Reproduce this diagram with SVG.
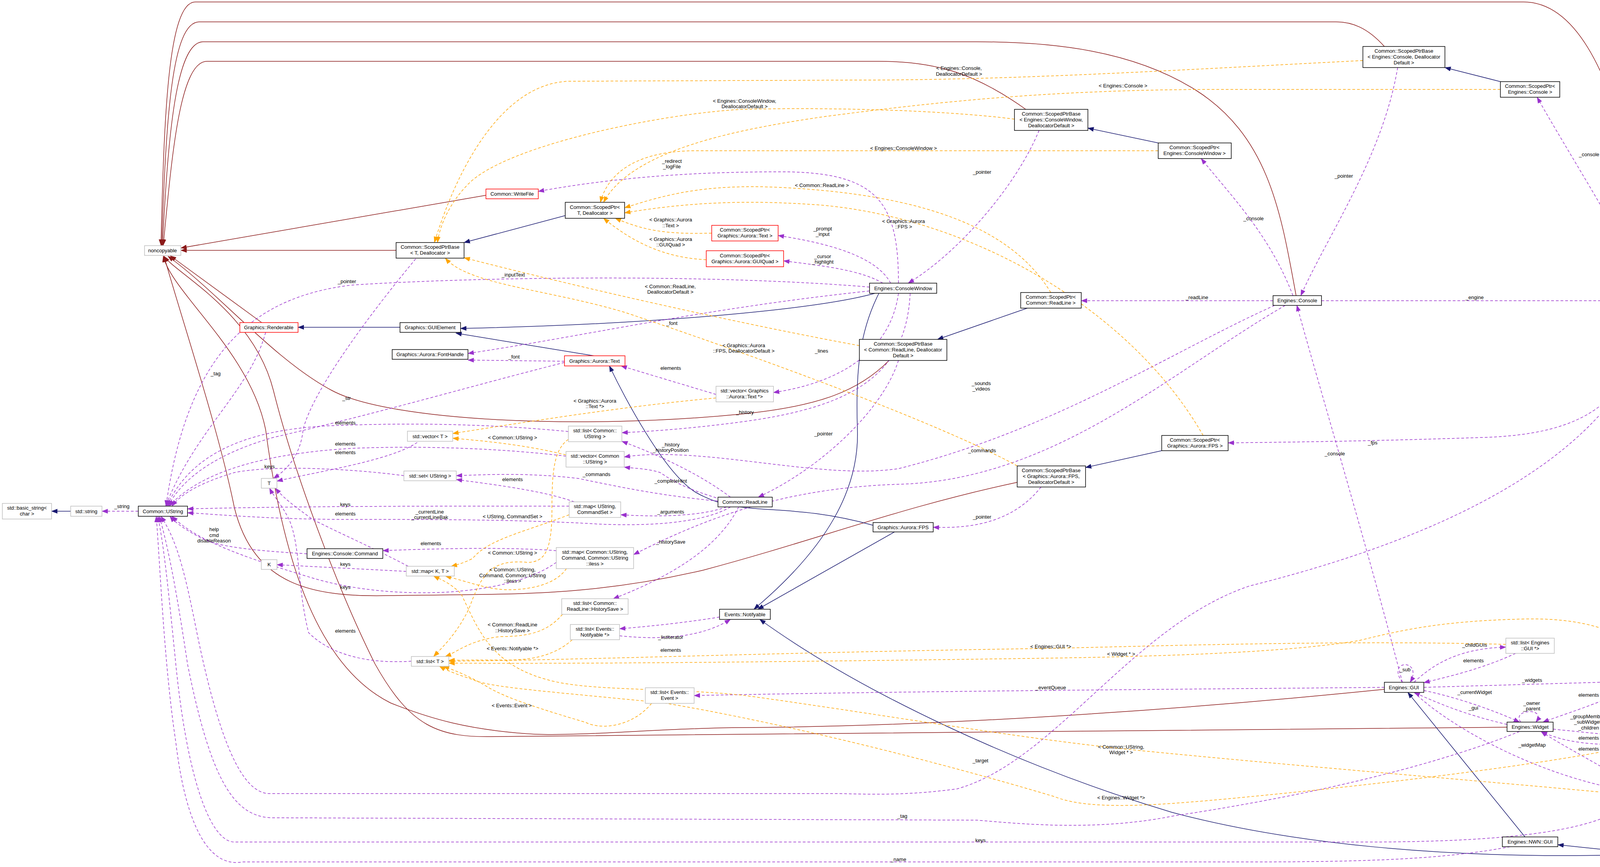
<svg xmlns="http://www.w3.org/2000/svg" width="4339" height="2220" viewBox="0 0 4339 2220">
<style>
text{font-family:"Liberation Sans",Arial,sans-serif;font-size:13px;fill:#000;text-anchor:middle}
.nb rect{fill:#fff;stroke:#000;stroke-width:1.5}
.ng rect{fill:#fff;stroke:#bfbfbf;stroke-width:1.5}
.nr rect{fill:#fff;stroke:#f00;stroke-width:1.5}
.nq rect{fill:#bfbfbf;stroke:#000;stroke-width:1.5}
#edges path{fill:none;stroke-width:1.5}
.inh{stroke:#191970;marker-end:url(#mb)}
.prv{stroke:#8b1a1a;marker-end:url(#mr)}
.use{stroke:#9a32cd;stroke-dasharray:7,5;marker-end:url(#mp)}
.tpl{stroke:#ffa500;stroke-dasharray:7,5;marker-end:url(#mo)}
</style>
<defs>
<marker id="mb" markerUnits="userSpaceOnUse" markerWidth="16" markerHeight="12" refX="15" refY="6" orient="auto"><path d="M0,0L16,6L0,12z" fill="#191970"/></marker>
<marker id="mr" markerUnits="userSpaceOnUse" markerWidth="16" markerHeight="12" refX="15" refY="6" orient="auto"><path d="M0,0L16,6L0,12z" fill="#8b1a1a"/></marker>
<marker id="mp" markerUnits="userSpaceOnUse" markerWidth="16" markerHeight="12" refX="15" refY="6" orient="auto"><path d="M0,0L16,6L0,12z" fill="#9a32cd"/></marker>
<marker id="mo" markerUnits="userSpaceOnUse" markerWidth="16" markerHeight="12" refX="15" refY="6" orient="auto"><path d="M0,0L16,6L0,12z" fill="#ffa500"/></marker>
</defs>
<rect width="4339" height="2220" fill="#fff"/>
<g id="edges">
<!-- private inheritance to noncopyable -->
<path class="prv" d="M1014,641L463,641"/>
<path class="prv" d="M1244,500L463,635"/>
<path class="prv" d="M670,826L436,655"/>
<path class="prv" d="M4235,757C4200,500 4120,5 3900,5L500,5C430,5 420,300 412,628"/>
<path class="prv" d="M3544,119C3500,70 3460,56 3420,56L510,56C440,56 425,300 414,628"/>
<path class="prv" d="M3318,757C3280,550 3250,350 3060,230C2900,130 2700,107 2500,107L520,107C450,107 430,350 416,628"/>
<path class="prv" d="M2626,280C2500,190 2400,157 2250,157L530,157C460,157 440,400 418,628"/>
<path class="prv" d="M2276,923C2200,1000 2100,1040 1900,1060C1500,1100 1000,1080 850,1000C700,920 560,750 430,656"/>
<path class="prv" d="M2604,1235C2300,1300 2100,1380 1800,1460C1500,1530 1300,1520 1000,1525C800,1530 650,1500 600,1300C560,1100 460,800 420,656"/>
<path class="prv" d="M3544,1765C3000,1820 2400,1860 1900,1863C1700,1864 1500,1885 1370,1880C1200,1870 1100,1840 1000,1800C800,1700 720,1400 680,1100C640,900 440,750 418,656"/>
<path class="prv" d="M3858,1862C3000,1870 2000,1880 1270,1886C1120,1890 1050,1860 960,1700C860,1500 750,1200 700,1000C650,800 450,700 420,656"/>
<!-- public inheritance -->
<path class="inh" d="M1447,552L1188,621"/>
<path class="inh" d="M1024,838L763,838"/>
<path class="inh" d="M2240,751C2100,790 1700,830 1179,841"/>
<path class="inh" d="M1520,911L1167,853"/>
<path class="inh" d="M2235,1345C2000,1280 1900,1330 1780,1260C1700,1210 1600,1020 1560,937"/>
<path class="inh" d="M2965,366L2785,328"/>
<path class="inh" d="M3841,209L3699,173"/>
<path class="inh" d="M2630,789L2400,869"/>
<path class="inh" d="M2974,1154L2779,1197"/>
<path class="inh" d="M2250,751C2200,850 2190,950 2195,1100C2200,1250 2120,1400 1930,1560"/>
<path class="inh" d="M2290,1362L1940,1560"/>
<path class="inh" d="M4151,2189C3700,2200 3300,2160 3000,2080C2600,1960 2200,1770 1945,1586"/>
<path class="inh" d="M3904,2143L3604,1773"/>
<path class="inh" d="M4151,2180L3988,2163"/>
<path class="inh" d="M181,1309L132,1309"/>
<!-- usage -->
<path class="use" d="M354,1309L261,1309"/>
<path class="use" d="M2300,725C2300,520 2250,440 2000,440C1800,440 1600,450 1378,490"/>
<path class="use" d="M2280,725C2240,650 2100,620 1992,603"/>
<path class="use" d="M2260,725C2200,690 2100,680 2006,668"/>
<path class="use" d="M2226,735C1800,700 1200,710 900,730C650,760 480,900 425,1296"/>
<path class="use" d="M2226,745C1800,790 1500,860 1198,905"/>
<path class="use" d="M1445,925L1198,922"/>
<path class="use" d="M2300,751C2280,900 2150,980 1980,1005"/>
<path class="use" d="M1833,1010L1590,937"/>
<path class="use" d="M2330,751C2320,950 2200,1040 1900,1080C1750,1100 1650,1105 1592,1108"/>
<path class="use" d="M1870,1273C1800,1220 1700,1170 1592,1130"/>
<path class="use" d="M1845,1278C1750,1250 1720,1230 1690,1210C1660,1200 1630,1200 1598,1196"/>
<path class="use" d="M1838,1283C1700,1270 1600,1250 1480,1225C1350,1210 1250,1215 1168,1218"/>
<path class="use" d="M1470,1285C1400,1260 1300,1245 1168,1228"/>
<path class="use" d="M1860,1298C1800,1320 1700,1325 1589,1318"/>
<path class="use" d="M1870,1298C1800,1340 1650,1350 1500,1340C1300,1330 1100,1330 900,1330C700,1330 600,1320 480,1313"/>
<path class="use" d="M1891,1298C1850,1380 1760,1460 1570,1533"/>
<path class="use" d="M2300,923C2260,1050 2100,1200 1941,1273"/>
<path class="use" d="M2660,334C2600,480 2450,650 2325,725"/>
<path class="use" d="M3578,173C3540,400 3400,600 3330,757"/>
<path class="use" d="M3310,757C3250,600 3150,500 3075,406"/>
<path class="use" d="M4220,757C4150,600 4020,400 3935,249"/>
<path class="use" d="M3259,770L2768,770"/>
<path class="use" d="M3383,770L4177,770"/>
<path class="use" d="M3263,782C3000,900 2700,1100 2300,1200C2100,1230 1800,1140 1598,1170"/>
<path class="use" d="M3290,782C3000,950 2700,1230 2300,1240C2000,1250 1800,1330 1622,1420"/>
<path class="use" d="M2665,1247C2600,1330 2500,1355 2389,1350"/>
<path class="use" d="M4230,782C4180,1000 4100,1110 3800,1120C3500,1130 3300,1132 3144,1134"/>
<path class="use" d="M3590,1747C3500,1400 3380,1000 3320,782"/>
<path class="use" d="M3590,1747C3570,1720 3580,1702 3597,1702C3614,1702 3626,1720 3610,1747"/>
<path class="use" d="M3620,1747C3680,1690 3750,1660 3855,1657"/>
<path class="use" d="M3880,1673C3800,1710 3720,1730 3645,1748"/>
<path class="use" d="M3645,1760L4167,1745"/>
<path class="use" d="M4190,1755C4100,1800 4000,1830 3950,1849"/>
<path class="use" d="M3645,1768C3750,1790 3850,1830 3890,1849"/>
<path class="use" d="M3858,1855C3750,1830 3680,1800 3620,1773"/>
<path class="use" d="M3893,1849C3880,1830 3900,1822 3917,1822C3934,1822 3945,1832 3932,1849"/>
<path class="use" d="M3976,1867L4174,1887"/>
<path class="use" d="M4174,1905C4080,1910 4000,1900 3946,1873"/>
<path class="use" d="M4190,2018C4100,1960 4000,1910 3945,1873"/>
<path class="use" d="M3620,1773C3700,1850 3900,1970 4130,2018"/>
<path class="use" d="M3544,1760C3000,1765 2300,1770 1777,1781"/>
<path class="use" d="M1842,1580C1750,1595 1650,1605 1586,1610"/>
<path class="use" d="M1586,1628C1700,1640 1800,1630 1870,1586"/>
<!-- to UString / T / K -->
<path class="use" d="M680,851C640,1000 500,1100 424,1296"/>
<path class="use" d="M1445,928C1200,990 1000,1050 700,1120C560,1160 470,1220 430,1296"/>
<path class="use" d="M1455,1105C1300,1090 1100,1080 850,1090C600,1100 480,1180 427,1296"/>
<path class="use" d="M1449,1168C1300,1150 1100,1140 900,1148C700,1160 520,1200 433,1296"/>
<path class="use" d="M1034,1218C900,1200 700,1190 600,1210C500,1240 460,1270 440,1296"/>
<path class="use" d="M1457,1296C1200,1296 800,1295 480,1303"/>
<path class="use" d="M786,1418C650,1410 560,1400 520,1380C480,1360 450,1340 435,1322"/>
<path class="use" d="M1424,1440C1300,1530 1000,1540 800,1480C600,1420 500,1380 440,1322"/>
<path class="use" d="M1424,1410C1300,1400 1100,1405 980,1410"/>
<path class="use" d="M1068,1133C1000,1180 800,1210 709,1232"/>
<path class="use" d="M1064,663C950,800 800,1000 776,1100C770,1160 740,1200 700,1225"/>
<path class="use" d="M1045,1450C950,1400 900,1380 800,1330C760,1300 730,1280 705,1250"/>
<path class="use" d="M1040,1463L709,1446"/>
<path class="use" d="M1053,1693C950,1700 850,1680 790,1620C760,1500 770,1400 740,1330C720,1290 700,1270 690,1250"/>
<path class="use" d="M4240,782C4200,1000 4000,1300 3200,1500C2900,1600 2700,1950 2450,2020C2300,2040 2200,2032 2134,2032L690,2032C620,2032 560,1900 500,1600C470,1450 450,1380 412,1322"/>
<path class="use" d="M3890,1873C3700,1950 3400,2030 3000,2090C2800,2130 2600,2108 2500,2100L700,2094C600,2094 540,2000 480,1700C450,1500 430,1400 408,1322"/>
<path class="use" d="M4170,2057C4100,2120 3900,2156 3500,2156L600,2156C540,2156 480,2000 450,1700C430,1500 420,1400 404,1322"/>
<path class="use" d="M3866,2168C3700,2200 3500,2207 3200,2207L620,2207C550,2220 480,2150 450,1900C420,1700 410,1450 400,1322"/>
<!-- template instances -->
<path class="tpl" d="M1822,597C1700,600 1650,590 1575,559"/>
<path class="tpl" d="M1808,665C1700,660 1620,620 1545,559"/>
<path class="tpl" d="M2690,749C2600,600 2400,500 2000,480C1800,470 1700,500 1599,532"/>
<path class="tpl" d="M3080,1115C2900,800 2500,560 2100,525C1900,510 1750,520 1599,545"/>
<path class="tpl" d="M2965,386L1780,386C1650,386 1560,430 1537,518"/>
<path class="tpl" d="M3841,229L3120,229C2700,229 2400,260 2100,300C1900,330 1620,380 1545,518"/>
<path class="tpl" d="M3489,155C3000,180 2600,205 2200,205L1460,208C1300,210 1180,400 1112,621"/>
<path class="tpl" d="M2597,305C2400,280 2100,275 1900,280C1700,290 1300,370 1200,470C1150,520 1125,580 1120,621"/>
<path class="tpl" d="M2200,885C1900,830 1500,740 1188,660"/>
<path class="tpl" d="M2604,1193C2400,1080 1900,900 1600,800C1400,740 1200,730 1140,661"/>
<path class="tpl" d="M1833,1019C1600,1040 1350,1080 1159,1110"/>
<path class="tpl" d="M1449,1165C1350,1140 1250,1130 1159,1122"/>
<path class="tpl" d="M1455,1125C1420,1150 1413,1200 1413,1300C1413,1400 1400,1440 1350,1440C1250,1430 1230,1480 1200,1560C1170,1620 1140,1650 1110,1681"/>
<path class="tpl" d="M1457,1318C1350,1360 1250,1380 1210,1430C1190,1440 1175,1445 1155,1450"/>
<path class="tpl" d="M1450,1456C1420,1500 1350,1510 1300,1510C1250,1510 1200,1490 1140,1475"/>
<path class="tpl" d="M1440,1573C1400,1620 1350,1630 1280,1630C1200,1640 1170,1670 1140,1681"/>
<path class="tpl" d="M1465,1638C1430,1670 1380,1690 1300,1690C1220,1690 1180,1690 1149,1691"/>
<path class="tpl" d="M1668,1801C1620,1860 1540,1870 1500,1850C1400,1820 1300,1790 1250,1760C1200,1730 1160,1715 1135,1706"/>
<path class="tpl" d="M3855,1650C3500,1640 3100,1650 2700,1660C2000,1670 1500,1690 1149,1693"/>
<path class="tpl" d="M4280,1730C4200,1640 4100,1580 3900,1585C3700,1590 3600,1610 3480,1640C3300,1670 3000,1680 2700,1685C2000,1695 1500,1700 1149,1698"/>
<path class="tpl" d="M4174,1910C4000,1950 3600,2000 3300,2030C3000,2060 2800,2080 2700,2040C2400,1950 2000,1850 1700,1800C1400,1770 1250,1760 1210,1740C1180,1730 1150,1720 1125,1706"/>
<path class="tpl" d="M4139,2032C3800,2000 3300,1960 2900,1920C2600,1890 2200,1820 1900,1780C1700,1760 1500,1770 1400,1740C1250,1700 1220,1600 1180,1520C1150,1490 1120,1480 1110,1475"/>
</g>
<g id="labels">
<text x="312" y="1301">_string</text>
<text x="1720" y="417">_redirect</text><text x="1720" y="431">_logFile</text>
<text x="2106" y="590">_prompt</text><text x="2106" y="604">_input</text>
<text x="2106" y="661">_cursor</text><text x="2106" y="675">_highlight</text>
<text x="1314" y="708">_inputText</text>
<text x="1720" y="832">_font</text>
<text x="1316" y="918">_font</text>
<text x="2103" y="903">_lines</text>
<text x="1717" y="947">elements</text>
<text x="1907" y="1060">_history</text>
<text x="1717" y="1143">_history</text><text x="1717" y="1157">_historyPosition</text>
<text x="1527" y="1219">_commands</text>
<text x="1717" y="1236">_completeHint</text>
<text x="1312" y="1232">elements</text>
<text x="1717" y="1315">_arguments</text>
<text x="1100" y="1315">_currentLine</text><text x="1100" y="1329">_currentLineBak</text>
<text x="1717" y="1392">_historySave</text>
<text x="2108" y="1115">_pointer</text>
<text x="2514" y="445">_pointer</text>
<text x="3440" y="455">_pointer</text>
<text x="3209" y="564">_console</text>
<text x="4068" y="400">_console</text>
<text x="3064" y="766">_readLine</text>
<text x="3775" y="766">_engine</text>
<text x="2512" y="986">_sounds</text><text x="2512" y="1000">_videos</text>
<text x="2514" y="1158">_commands</text>
<text x="2514" y="1328">_pointer</text>
<text x="3514" y="1138">_fps</text>
<text x="3417" y="1166">_console</text>
<text x="3597" y="1719">_sub</text>
<text x="3775" y="1656">_childGUIs</text>
<text x="3772" y="1696">elements</text>
<text x="3922" y="1746">_widgets</text>
<text x="4067" y="1784">elements</text>
<text x="3775" y="1777">_currentWidget</text>
<text x="3772" y="1817">_gui</text>
<text x="3921" y="1805">_owner</text><text x="3921" y="1819">_parent</text>
<text x="4067" y="1839">_groupMembers</text><text x="4067" y="1853">_subWidgets</text><text x="4067" y="1868">_children</text>
<text x="4067" y="1894">elements</text>
<text x="4067" y="1922">elements</text>
<text x="3922" y="1912">_widgetMap</text>
<text x="2690" y="1765">_eventQueue</text>
<text x="1717" y="1636">_listIterator</text>
<text x="1717" y="1669">elements</text>
<text x="552" y="961">_tag</text>
<text x="888" y="725">_pointer</text>
<text x="887" y="1024">_str</text>
<text x="884" y="1087">elements</text>
<text x="884" y="1141">elements</text>
<text x="884" y="1163">elements</text>
<text x="690" y="1199">keys</text>
<text x="884" y="1296">keys</text>
<text x="884" y="1320">elements</text>
<text x="548" y="1360">help</text><text x="548" y="1375">cmd</text><text x="548" y="1389">disableReason</text>
<text x="1103" y="1396">elements</text>
<text x="884" y="1449">keys</text>
<text x="884" y="1508">keys</text>
<text x="884" y="1620">elements</text>
<text x="2510" y="1952">_target</text>
<text x="2310" y="2094">_tag</text>
<text x="2510" y="2156">keys</text>
<text x="2300" y="2205">_name</text>
<text x="1717" y="567">&lt; Graphics::Aurora</text><text x="1717" y="582">::Text &gt;</text>
<text x="1717" y="617">&lt; Graphics::Aurora</text><text x="1717" y="631">::GUIQuad &gt;</text>
<text x="2104" y="479">&lt; Common::ReadLine &gt;</text>
<text x="2313" y="571">&lt; Graphics::Aurora</text><text x="2313" y="585">::FPS &gt;</text>
<text x="2313" y="384">&lt; Engines::ConsoleWindow &gt;</text>
<text x="2875" y="224">&lt; Engines::Console &gt;</text>
<text x="2455" y="179">&lt; Engines::Console,</text><text x="2455" y="194">DeallocatorDefault &gt;</text>
<text x="1906" y="263">&lt; Engines::ConsoleWindow,</text><text x="1906" y="277">DeallocatorDefault &gt;</text>
<text x="1716" y="738">&lt; Common::ReadLine,</text><text x="1716" y="752">DeallocatorDefault &gt;</text>
<text x="1904" y="889">&lt; Graphics::Aurora</text><text x="1904" y="903">::FPS, DeallocatorDefault &gt;</text>
<text x="1523" y="1031">&lt; Graphics::Aurora</text><text x="1523" y="1045">::Text *&gt;</text>
<text x="1312" y="1125">&lt; Common::UString &gt;</text>
<text x="1312" y="1327">&lt; UString, CommandSet &gt;</text>
<text x="1312" y="1420">&lt; Common::UString &gt;</text>
<text x="1312" y="1463">&lt; Common::UString,</text><text x="1312" y="1478">Command, Common::UString</text><text x="1312" y="1492">::iless &gt;</text>
<text x="1312" y="1604">&lt; Common::ReadLine</text><text x="1312" y="1619">::HistorySave &gt;</text>
<text x="1312" y="1665">&lt; Events::Notifyable *&gt;</text>
<text x="1310" y="1811">&lt; Events::Event &gt;</text>
<text x="2690" y="1660">&lt; Engines::GUI *&gt;</text>
<text x="2870" y="1679">&lt; Widget * &gt;</text>
<text x="2870" y="2047">&lt; Engines::Widget *&gt;</text>
<text x="2870" y="1917">&lt; Common::UString,</text><text x="2870" y="1931">Widget * &gt;</text>
</g>
<g id="noncopyable" class="ng"><rect x="370" y="629" width="93" height="25"/><text x="416" y="646">noncopyable</text></g>
<g id="spbT" class="nb"><rect x="1014" y="621" width="174" height="40"/><text x="1101" y="637">Common::ScopedPtrBase</text><text x="1101" y="652">&lt; T, Deallocator &gt;</text></g>
<g id="renderable" class="nr"><rect x="614" y="826" width="149" height="25"/><text x="688" y="843">Graphics::Renderable</text></g>
<g id="guielement" class="nb"><rect x="1024" y="826" width="155" height="25"/><text x="1101" y="843">Graphics::GUIElement</text></g>
<g id="fonthandle" class="nb"><rect x="1004" y="895" width="194" height="25"/><text x="1101" y="912">Graphics::Aurora::FontHandle</text></g>
<g id="writefile" class="nr"><rect x="1244" y="484" width="134" height="25"/><text x="1311" y="501">Common::WriteFile</text></g>
<g id="spT" class="nb"><rect x="1447" y="518" width="152" height="41"/><text x="1523" y="535">Common::ScopedPtr&lt;</text><text x="1523" y="550">T, Deallocator &gt;</text></g>
<g id="spText" class="nr"><rect x="1822" y="577" width="170" height="40"/><text x="1907" y="593">Common::ScopedPtr&lt;</text><text x="1907" y="608">Graphics::Aurora::Text &gt;</text></g>
<g id="spGUIQuad" class="nr"><rect x="1808" y="642" width="198" height="41"/><text x="1907" y="659">Common::ScopedPtr&lt;</text><text x="1907" y="674">Graphics::Aurora::GUIQuad &gt;</text></g>
<g id="auroraText" class="nr"><rect x="1445" y="911" width="155" height="26"/><text x="1522" y="929">Graphics::Aurora::Text</text></g>
<g id="vecText" class="ng"><rect x="1833" y="989" width="147" height="40"/><text x="1906" y="1005">std::vector&lt; Graphics</text><text x="1906" y="1020">::Aurora::Text *&gt;</text></g>
<g id="spbConsole" class="nb"><rect x="3489" y="119" width="210" height="54"/><text x="3594" y="135">Common::ScopedPtrBase</text><text x="3594" y="150">&lt; Engines::Console, Deallocator</text><text x="3594" y="165">Default &gt;</text></g>
<g id="spConsole" class="nb"><rect x="3841" y="209" width="152" height="40"/><text x="3917" y="225">Common::ScopedPtr&lt;</text><text x="3917" y="240">Engines::Console &gt;</text></g>
<g id="spbCW" class="nb"><rect x="2597" y="280" width="188" height="54"/><text x="2691" y="296">Common::ScopedPtrBase</text><text x="2691" y="311">&lt; Engines::ConsoleWindow,</text><text x="2691" y="326">DeallocatorDefault &gt;</text></g>
<g id="spCW" class="nb"><rect x="2965" y="366" width="187" height="40"/><text x="3058" y="382">Common::ScopedPtr&lt;</text><text x="3058" y="397">Engines::ConsoleWindow &gt;</text></g>
<g id="consoleWindow" class="nb"><rect x="2226" y="725" width="172" height="26"/><text x="2312" y="743">Engines::ConsoleWindow</text></g>
<g id="spReadLine" class="nb"><rect x="2613" y="749" width="155" height="40"/><text x="2690" y="765">Common::ScopedPtr&lt;</text><text x="2690" y="780">Common::ReadLine &gt;</text></g>
<g id="console" class="nb"><rect x="3259" y="757" width="124" height="25"/><text x="3321" y="774">Engines::Console</text></g>
<g id="engine" class="nb"><rect x="4177" y="757" width="117" height="25"/><text x="4235" y="774">Engines::Engine</text></g>
<g id="spbReadLine" class="nb"><rect x="2200" y="869" width="224" height="54"/><text x="2312" y="885">Common::ScopedPtrBase</text><text x="2312" y="900">&lt; Common::ReadLine, Deallocator</text><text x="2312" y="915">Default &gt;</text></g>
<g id="spFPS" class="nb"><rect x="2974" y="1115" width="170" height="39"/><text x="3059" y="1131">Common::ScopedPtr&lt;</text><text x="3059" y="1146">Graphics::Aurora::FPS &gt;</text></g>
<g id="spbFPS" class="nb"><rect x="2604" y="1193" width="175" height="54"/><text x="2691" y="1209">Common::ScopedPtrBase</text><text x="2691" y="1224">&lt; Graphics::Aurora::FPS,</text><text x="2691" y="1239">DeallocatorDefault &gt;</text></g>
<g id="fps" class="nb"><rect x="2235" y="1338" width="154" height="24"/><text x="2312" y="1355">Graphics::Aurora::FPS</text></g>
<g id="basicString" class="ng"><rect x="6" y="1289" width="126" height="40"/><text x="69" y="1305">std::basic_string&lt;</text><text x="69" y="1320">char &gt;</text></g>
<g id="stdString" class="ng"><rect x="181" y="1296" width="80" height="26"/><text x="221" y="1314">std::string</text></g>
<g id="ustring" class="nb"><rect x="354" y="1296" width="126" height="26"/><text x="417" y="1314">Common::UString</text></g>
<g id="T" class="ng"><rect x="669" y="1225" width="40" height="25"/><text x="689" y="1242">T</text></g>
<g id="command" class="nb"><rect x="786" y="1405" width="194" height="25"/><text x="883" y="1422">Engines::Console::Command</text></g>
<g id="K" class="ng"><rect x="669" y="1433" width="40" height="25"/><text x="689" y="1450">K</text></g>
<g id="vecT" class="ng"><rect x="1043" y="1104" width="116" height="26"/><text x="1101" y="1122">std::vector&lt; T &gt;</text></g>
<g id="listUString" class="ng"><rect x="1455" y="1091" width="137" height="40"/><text x="1523" y="1107">std::list&lt; Common::</text><text x="1523" y="1122">UString &gt;</text></g>
<g id="vecUString" class="ng"><rect x="1449" y="1156" width="149" height="40"/><text x="1523" y="1172">std::vector&lt; Common</text><text x="1523" y="1187">::UString &gt;</text></g>
<g id="setUString" class="ng"><rect x="1034" y="1206" width="134" height="25"/><text x="1101" y="1223">std::set&lt; UString &gt;</text></g>
<g id="mapCmdSet" class="ng"><rect x="1457" y="1285" width="132" height="40"/><text x="1523" y="1301">std::map&lt; UString,</text><text x="1523" y="1316">CommandSet &gt;</text></g>
<g id="readLine" class="nb"><rect x="1838" y="1273" width="139" height="25"/><text x="1907" y="1290">Common::ReadLine</text></g>
<g id="mapCmd" class="ng"><rect x="1424" y="1402" width="198" height="54"/><text x="1523" y="1418">std::map&lt; Common::UString,</text><text x="1523" y="1433">Command, Common::UString</text><text x="1523" y="1448">::iless &gt;</text></g>
<g id="mapKT" class="ng"><rect x="1040" y="1450" width="123" height="25"/><text x="1101" y="1467">std::map&lt; K, T &gt;</text></g>
<g id="listHistory" class="ng"><rect x="1438" y="1533" width="170" height="40"/><text x="1523" y="1549">std::list&lt; Common::</text><text x="1523" y="1564">ReadLine::HistorySave &gt;</text></g>
<g id="listNotifyable" class="ng"><rect x="1460" y="1599" width="126" height="39"/><text x="1523" y="1615">std::list&lt; Events::</text><text x="1523" y="1630">Notifyable *&gt;</text></g>
<g id="notifyable" class="nb"><rect x="1842" y="1560" width="130" height="26"/><text x="1907" y="1578">Events::Notifyable</text></g>
<g id="listT" class="ng"><rect x="1053" y="1681" width="96" height="25"/><text x="1101" y="1698">std::list&lt; T &gt;</text></g>
<g id="listEvent" class="ng"><rect x="1652" y="1761" width="125" height="40"/><text x="1714" y="1777">std::list&lt; Events::</text><text x="1714" y="1792">Event &gt;</text></g>
<g id="gui" class="nb"><rect x="3544" y="1747" width="101" height="26"/><text x="3594" y="1765">Engines::GUI</text></g>
<g id="listGUI" class="ng"><rect x="3855" y="1634" width="124" height="39"/><text x="3917" y="1650">std::list&lt; Engines</text><text x="3917" y="1665">::GUI *&gt;</text></g>
<g id="listWidgetP" class="ng"><rect x="4167" y="1730" width="137" height="25"/><text x="4235" y="1747">std::list&lt; Widget * &gt;</text></g>
<g id="widget" class="nb"><rect x="3858" y="1849" width="118" height="24"/><text x="3917" y="1866">Engines::Widget</text></g>
<g id="listEWidget" class="ng"><rect x="4174" y="1877" width="123" height="40"/><text x="4235" y="1893">std::list&lt; Engines</text><text x="4235" y="1908">::Widget *&gt;</text></g>
<g id="mapWidget" class="ng"><rect x="4139" y="2018" width="194" height="39"/><text x="4236" y="2034">std::map&lt; Common::UString,</text><text x="4236" y="2049">Widget * &gt;</text></g>
<g id="nwnGUI" class="nb"><rect x="3846" y="2143" width="142" height="25"/><text x="3917" y="2160">Engines::NWN::GUI</text></g>
<g id="quickbar" class="nq"><rect x="4151" y="2172" width="170" height="25"/><text x="4236" y="2189">Engines::NWN::Quickbar</text></g>
</svg>
